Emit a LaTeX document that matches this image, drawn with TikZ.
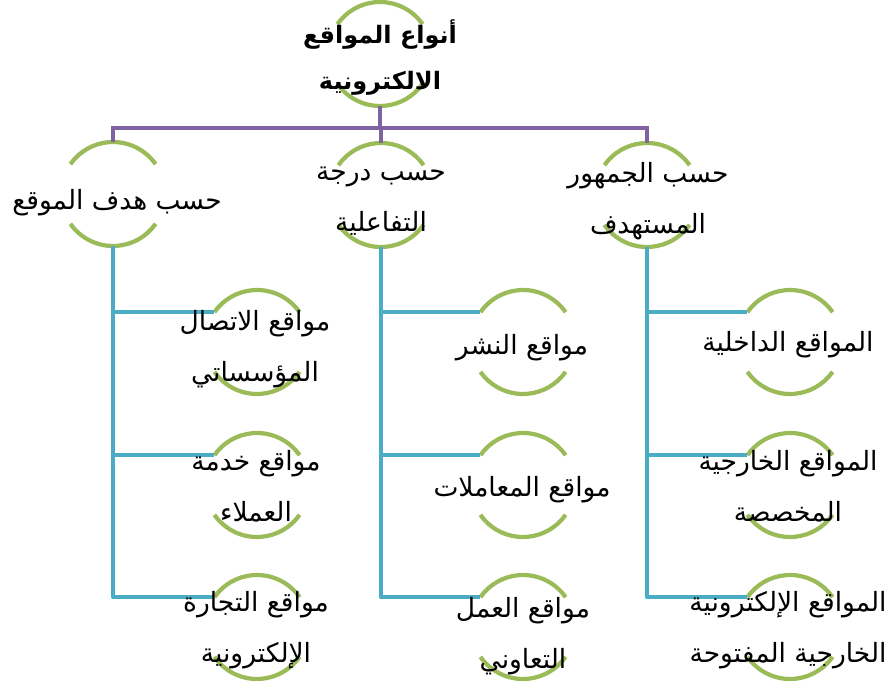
\documentclass[tikz,border=0pt]{standalone}
\usepackage{fontspec}
\newfontfamily\arabicfont[Script=Arabic]{DejaVu Sans}
\TeXXeTstate=1
\usetikzlibrary{backgrounds}
\definecolor{ringgreen}{RGB}{155,187,89}
\definecolor{barpurple}{RGB}{128,100,162}
\definecolor{linecyan}{RGB}{75,172,198}
\newcommand\artxt[1]{\beginR #1\endR}
\tikzset{
  ring/.style={circle, minimum size=104pt, inner sep=0pt, outer sep=0pt, draw=none},
  lbl/.style={align=center, inner sep=0pt, font=\arabicfont\fontsize{26.5}{51}\selectfont},
  rootlbl/.style={lbl, font=\arabicfont\bfseries\fontsize{24}{46}\selectfont},
  arcline/.style={draw=ringgreen, line width=4.2pt},
  purp/.style={draw=barpurple, line width=4.2pt},
  cyanl/.style={draw=linecyan, line width=4.5pt, line join=round},
}
\newcommand\ringarcs[1]{%
  \draw[arcline] (#1.35) arc[start angle=35, end angle=145, radius=52pt];
  \draw[arcline] (#1.215) arc[start angle=215, end angle=325, radius=52pt];}
\begin{document}
\begin{tikzpicture}[x=1pt, y=1pt]
\useasboundingbox (0,0) rectangle (890,680);
% rings
\node[ring] (root) at (380,626) {};
\node[ring] (la) at (113,486) {};
\node[ring] (lb) at (381,485) {};
\node[ring] (lc) at (647,485) {};
\node[ring] (a1) at (257,338) {};
\node[ring] (a2) at (257,195) {};
\node[ring] (a3) at (257,53) {};
\node[ring] (b1) at (523,338) {};
\node[ring] (b2) at (523,195) {};
\node[ring] (b3) at (523,53) {};
\node[ring] (c1) at (790,338) {};
\node[ring] (c2) at (790,195) {};
\node[ring] (c3) at (790,53) {};
\coordinate (bar) at (380,552);
\begin{scope}[on background layer]
  \foreach \n in {root,la,lb,lc,a1,a2,a3,b1,b2,b3,c1,c2,c3}{\ringarcs{\n}}
  % purple connectors
  \draw[purp] (root.south) -- (root.south |- bar);
  \draw[purp] (la.north) -- (la.north |- bar) -- (lc.north |- bar) -- (lc.north);
  \draw[purp] (lb.north) -- (lb.north |- bar);
  % cyan connectors
  \draw[cyanl] (la.south) |- (a3.145);
  \draw[cyanl] (a1.145 -| la.south) -- (a1.145);
  \draw[cyanl] (a2.145 -| la.south) -- (a2.145);
  \draw[cyanl] (lb.south) |- (b3.145);
  \draw[cyanl] (b1.145 -| lb.south) -- (b1.145);
  \draw[cyanl] (b2.145 -| lb.south) -- (b2.145);
  \draw[cyanl] (lc.south) |- (c3.145);
  \draw[cyanl] (c1.145 -| lc.south) -- (c1.145);
  \draw[cyanl] (c2.145 -| lc.south) -- (c2.145);
\end{scope}
% labels
\node[rootlbl] (troot) at (380,622) {\artxt{أنواع المواقع}\\\artxt{الالكترونية}};
\node[lbl] (tla) at (117,477) {\artxt{حسب هدف الموقع}};
\node[lbl] (tlb) at (381,479) {\artxt{حسب درجة}\\\artxt{التفاعلية}};
\node[lbl] (tlc) at (648,479) {\artxt{حسب الجمهور}\\\artxt{المستهدف}};
\node[lbl] (ta1) at (255,331) {\artxt{مواقع الاتصال}\\\artxt{المؤسساتي}};
\node[lbl] (ta2) at (256,194) {\artxt{مواقع خدمة}\\\artxt{العملاء}};
\node[lbl] (ta3) at (256,50) {\artxt{مواقع التجارة}\\\artxt{الإلكترونية}};
\node[lbl] (tb1) at (522,332) {\artxt{مواقع النشر}};
\node[lbl] (tb2) at (522,190) {\artxt{مواقع المعاملات}};
\node[lbl] (tb3) at (523,44) {\artxt{مواقع العمل}\\\artxt{التعاوني}};
\node[lbl] (tc1) at (788,335) {\artxt{المواقع الداخلية}};
\node[lbl] (tc2) at (788,194) {\artxt{المواقع الخارجية}\\\artxt{المخصصة}};
\node[lbl] (tc3) at (788,50) {\artxt{المواقع الإلكترونية}\\\artxt{الخارجية المفتوحة}};
\end{tikzpicture}
\end{document}
